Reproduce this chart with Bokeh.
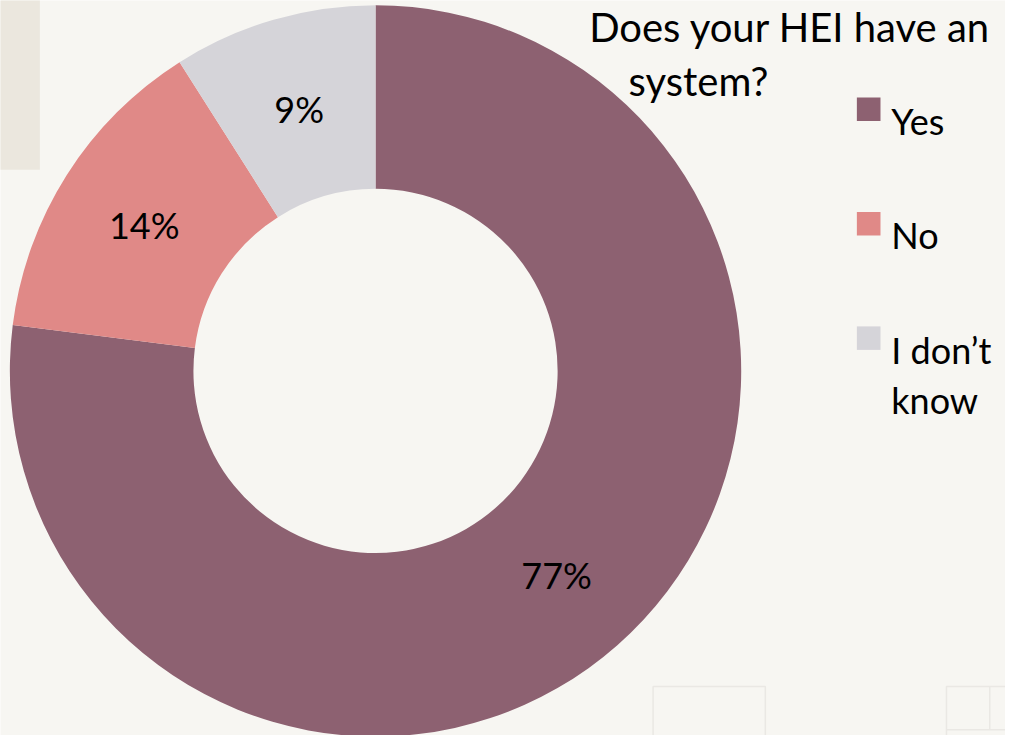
import math
from bokeh.plotting import figure
from bokeh.models import Range1d
from bokeh.core.properties import value
from bokeh.embed import file_html
from bokeh.resources import INLINE

# ---- data ----
categories = ["Yes", "No", "I don\u2019t know"]
shares = [77, 14, 9]
pct_labels = ["77%", "14%", "9%"]
colors = ["#8D6171", "#E08987", "#D5D4D9"]
title_lines = ["Does your HEI have an", "system?"]
legend_lines = [["Yes"], ["No"], ["I don\u2019t", "know"]]

W, H = 1005, 735
REF_W, REF_H = 1021, 751

def fy(py):
    return REF_H - py

p = figure(width=W, height=H, output_backend="svg", toolbar_location=None,
           x_range=Range1d(0, REF_W), y_range=Range1d(0, REF_H),
           x_axis_type=None, y_axis_type=None, min_border=0,
           background_fill_color="#F7F6F2", border_fill_color="#F7F6F2",
           outline_line_color=None)
p.grid.visible = False

# decorative beige panel at top-left
p.quad(left=[-5], right=[40], top=[fy(-5)], bottom=[fy(173)],
       fill_color="#EBE7DE", line_color=None)

# faint slide frames bottom-right
p.quad(left=[663, 961], right=[777, 1030], top=[fy(701), fy(701)], bottom=[fy(760), fy(760)],
       fill_color=None, line_color="#EAE8E4", line_width=1.5)
p.segment(x0=[1005, 961], y0=[fy(701), fy(745)], x1=[1005, 1030], y1=[fy(745), fy(745)],
          line_color="#EAE8E4", line_width=1.5)

# donut
cx, cy = 381, fy(378.5)
r_out, r_in = 371.5, 185
total = sum(shares)
cum = 0
starts, ends, lx, ly = [], [], [], []
for s in shares:
    a0 = math.pi / 2 - 2 * math.pi * cum / total
    a1 = math.pi / 2 - 2 * math.pi * (cum + s) / total
    mid = (a0 + a1) / 2
    rm = (r_out + r_in) / 2
    starts.append(a0)
    ends.append(a1)
    lx.append(cx + rm * math.cos(mid))
    ly.append(cy + rm * math.sin(mid))
    cum += s

p.annular_wedge(x=[cx] * 3, y=[cy] * 3, inner_radius=r_in, outer_radius=r_out,
                start_angle=starts, end_angle=ends, direction="clock",
                fill_color=colors, line_color=None)

p.text(x=lx, y=ly, text=pct_labels, text_font=value("Lato"), text_font_size="36px",
       text_color="#000000", text_align="center", text_baseline="middle")

# title
p.text(x=[598], y=[fy(27)], text=[title_lines[0]], text_font=value("Lato"),
       text_font_size="40px", text_color="#000000", text_baseline="alphabetic")
p.text(x=[638], y=[fy(82)], text=[title_lines[1]], text_font=value("Lato"),
       text_font_size="40px", text_color="#000000", text_baseline="alphabetic")

# legend
leg_y = [111, 228, 345]
p.rect(x=[882] * 3, y=[fy(v) for v in leg_y], width=24, height=24,
       fill_color=colors, line_color=None)
tx, ty, tt = [], [], []
for yy, lines in zip(leg_y, legend_lines):
    for i, ln in enumerate(lines):
        tx.append(905)
        ty.append(fy(yy + 12 + 51 * i))
        tt.append(ln)
p.text(x=tx, y=ty, text=tt, text_font=value("Lato"), text_font_size="36px",
       text_color="#000000", text_baseline="alphabetic")

open("out.html", "w").write(file_html(p, INLINE))
